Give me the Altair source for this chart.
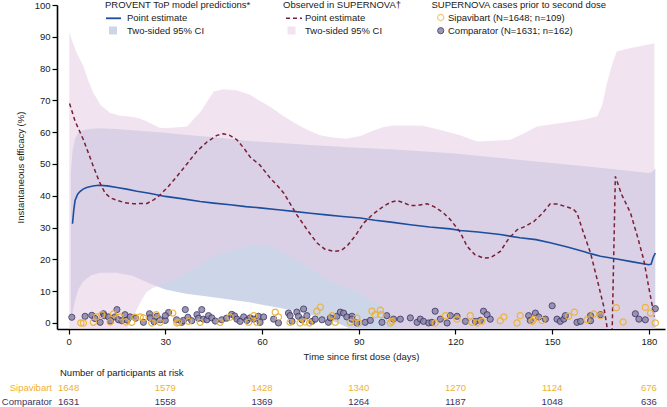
import altair as alt
import pandas as pd

FONT = "Liberation Sans"
FS = 9.5
TXT = "#1a1a1a"
BLUE = "#1d4e9e"
MAROON = "#7a1f35"
BLUE_CI = "#cdd6e8"
PINK_CI = "#e6cde3"
ORANGE = "#efb135"
PURPLE = "#3a3462"
PURPLE_FILL = "#8d86a8"

# PROVENT ToP model predictions: point estimate
model_day = [1.2, 1.6, 2, 2.8, 3.6, 4.5, 5.6, 7.5, 9.3, 12, 15, 18, 21.2, 25, 30, 35, 40.8, 45,
             50.1, 55, 59.4, 65, 69.8, 75, 80, 85, 90.5, 95, 100, 106, 112, 118.4, 121.5, 127,
             133.9, 140, 145, 149.4, 155, 160, 161.9, 165, 170.1, 175, 180, 180.7, 181.3, 182]
model_est = [31.2, 35.5, 38.5, 40.5, 41.4, 42.1, 42.6, 43.1, 43.3, 43.1, 42.6, 42.1, 41.4, 40.8,
             39.8, 39.1, 38.2, 37.7, 37.2, 36.6, 36.2, 35.6, 35.1, 34.5, 34.0, 33.5, 33.0, 32.3,
             31.7, 30.9, 30.2, 29.6, 29.1, 28.6, 27.8, 26.8, 26.2, 25.2, 23.8, 22.4, 21.8, 21.0,
             20.1, 19.2, 18.3, 18.5, 20.5, 22.0]

# PROVENT ToP model predictions: two-sided 95% CI
model_ci_day = [0.7, 1.2, 2, 3, 4.5, 7, 10, 15, 20, 25, 30, 36, 46, 56, 66, 75, 82, 88, 100,
                120, 135, 150, 165, 180, 181, 182]
model_ci_lo = [0, 3, 7, 10.5, 13, 15, 15.8, 15.8, 14.8, 12.5, 10.5, 9.3, 7.9, 6.5, 4.6, 2.6,
               0.5, -2, -2, -2, -2, -2, -2, -2, -2, -2]
model_ci_hi = [47, 54, 58, 59.8, 60.6, 61.1, 61.2, 61.0, 60.6, 60.2, 59.8, 59.2, 58.3, 57.2,
               56.6, 56.0, 55.6, 55.2, 54.6, 53.3, 51.8, 50.3, 48.8, 47.2, 47.5, 48.6]

# Observed in SUPERNOVA: point estimate
obs_day = [0.3, 2, 4.6, 7.7, 9.5, 11.3, 13, 15, 17.5, 20.1, 24.3, 26.5, 28.4, 31, 33.6, 36.7,
           39.8, 43, 46, 48, 50, 52.2, 54.5, 56.3, 59.4, 62.5, 64.5, 66.7, 70.8, 74, 77, 79.5,
           82.2, 84.5, 86.3, 89, 91.5, 94.5, 97.7, 100, 101.9, 104, 106, 108.5, 111.2, 113.5,
           116.3, 118.4, 121.5, 123.6, 126, 128.7, 131, 133.9, 136.5, 139.1, 141.5, 144.3,
           147, 149.4, 151.5, 154.6, 156.5, 157.7, 159.5, 161.9, 164, 166, 167.3, 168.6,
           169.6, 171.5, 174.3, 176.5, 178.4, 180, 181.7]
obs_est = [69, 63.5, 57.6, 49.2, 44.5, 40.9, 39.3, 38.6, 37.8, 37.5, 37.6, 38.8, 40.3, 43,
           46.1, 50, 54, 57, 59, 59.5, 59, 57.6, 54.8, 52.2, 49.6, 45.6, 43.5, 40.9, 34, 29.3,
           25.2, 23.2, 22.5, 22.8, 24.1, 27.5, 31.4, 34.3, 36.7, 38, 38.5, 37.8, 36.9, 37,
           37.5, 36.5, 34.6, 32.5, 28.5, 24.1, 21.5, 20.4, 20.6, 22.5, 26.5, 29.3, 30.3, 31.9,
           34.5, 37.5, 37.4, 36.5, 35.8, 34.6, 29, 22, 13.5, 5.2, -3, -3, 46.1, 40.5, 34.6,
           27, 19.9, 11, 2]

# Observed in SUPERNOVA: two-sided 95% CI
obs_ci_day = [0.2, 1, 2.5, 4.6, 6, 7.7, 10, 12.9, 16, 18, 20, 22, 24, 26, 28.4, 32, 36.7, 41,
              45, 48, 52, 56.3, 59.4, 62.5, 66.7, 70, 74, 78, 82, 86, 90.5, 94, 97.7, 100, 102,
              106, 110, 116, 121.5, 126.7, 132, 137, 141, 145.3, 149.4, 155, 160, 164, 165.5,
              167, 168.5, 170, 174.3, 178, 181.7]
obs_ci_lo = [-2, -2, -2, -2, -2, -2, -2, -2, -2, -2, 2, 6, 9.5, 11, 11.8, 13.3, 15.7, 18.5, 21,
             22, 23.2, 24.4, 24.6, 24, 22, 20, 17.8, 15.2, 12.6, 11, 9.4, 7, 4.2, 1.5, -2,
             -2, -2, -2, -2, -2, -2, -2, -2, -2, -2, -2, -2, -2, -2, -2, -2, -2, -2, -2, -2]
obs_ci_hi = [91.5, 89, 85, 80.7, 76.5, 72.3, 68.5, 66, 65.2, 65, 64.8, 64.3, 63.5, 62.5, 61.3,
             61.4, 61.8, 66.5, 72.8, 73.5, 73.2, 71.8, 69.8, 68, 65, 63, 60.8, 59, 58.3, 57.9,
             58.8, 60.3, 61.6, 62, 62.1, 62.1, 62, 60.5, 59, 57.1, 57.3, 57.6, 59.5, 61.8,
             62.4, 63.2, 64, 65, 68.5, 75.5, 81, 85.4, 86.5, 87.2, 88]

# SUPERNOVA cases prior to second dose (day of case, plotted height)
comp_day = [1.0, 5.1, 7.2, 8.2, 9.8, 10.8, 11.1, 12.4, 13.0, 15.0, 14.4, 15.5, 16.5, 17.5, 18.2,
            19.1, 20.8, 23.2, 25.1, 25.3, 26.5, 27.4, 28.4, 30.0, 31.0, 30.0, 33.5, 35.1, 35.6,
            36.2, 37.0, 38.2, 39.8, 40.3, 41.3, 41.8, 42.9, 43.4, 44.4, 45.5, 47.5, 49.0, 50.6,
            51.5, 52.2, 53.2, 54.3, 55.3, 56.3, 57.4, 58.9, 59.4, 60.5, 63.6, 65.1, 68.2, 68.7,
            69.3, 70.8, 71.3, 72.4, 72.9, 73.9, 75.5, 76.5, 78.6, 80.6, 81.2, 83.2, 84.3, 85.3,
            86.3, 87.9, 87.9, 89.4, 92.0, 93.6, 97.2, 98.7, 100.8, 102.9, 106.0, 108.1, 109.1,
            110.1, 111.7, 112.7, 113.7, 115.3, 117.4, 118.4, 120.5, 123.1, 126.2, 127.7, 128.7,
            129.8, 130.8, 142.7, 143.2, 144.8, 145.8, 147.9, 150.0, 151.5, 152.5, 153.6, 154.1,
            157.7, 158.8, 161.9, 161.9, 165.0, 175.8, 176.9, 178.9, 182.0]
comp_val = [1.8, 2.1, 2.4, 1.4, 0.2, 2.9, 2.3, 1.9, 0.6, 4.2, 1.9, 1.0, 0.7, 2.6, 0.9,
            1.9, 1.5, 0.2, 2.9, 1.6, 0.4, 2.1, 1.0, 0.8, 3.3, 2.3, 1.0, 0.2, 0.8,
            4.2, 1.8, 0.7, 2.6, 1.5, 4.2, 1.2, 1.0, 2.3, 1.6, 0.6, 1.0, 1.5, 2.7,
            2.2, 1.2, 0.5, 1.9, 0.8, 1.6, 1.2, 2.1, 0.2, 1.9, 1.2, 0.0, 3.1, 2.3,
            0.5, 3.4, 2.1, 1.0, 4.4, 2.3, 0.5, 1.2, 1.0, 0.2, 1.6, 2.1, 3.4, 3.1,
            1.9, 2.1, 1.2, 0.0, 0.2, 0.8, 0.2, 2.3, 1.2, 1.2, 1.6, 0.2, 1.2,
            0.5, 0.0, 0.2, 3.7, 1.2, 0.0, 2.3, 2.1, 0.5, 0.5, 0.8, 3.7,
            2.6, 1.2, 2.3, 0.8, 3.1, 1.9, 1.2, 5.4, 1.2, 0.5, 1.2, 2.3,
            0.2, 0.5, 2.3, 0.7, 2.6, 2.9, 1.2, 1.0, 4.5]
sipa_day = [3.8, 4.6, 7.7, 8.7, 10.3, 12.9, 13.9, 16.0, 17.8, 19.6, 20.6, 22.2, 23.2, 25.8, 27.2,
            28.4, 32.3, 33.6, 34.1, 37.2, 40.8, 47.0, 50.1, 55.8, 57.4, 58.4, 64.1, 65.1, 68.7,
            71.8, 73.4, 74.7, 77.0, 78.1, 81.7, 82.7, 87.4, 89.4, 90.0, 94.1, 95.1, 96.7, 96.9,
            99.8, 100.3, 113.7, 116.9, 120.5, 124.6, 125.1, 126.7, 128.2, 133.9, 135.0, 139.1,
            140.1, 143.8, 144.3, 146.9, 155.1, 156.9, 160.8, 162.9, 165.0, 169.9, 172.0, 178.9,
            180.5, 182.0]
sipa_val = [0.0, 0.0, 0.2, 1.9, 2.6, 0.3, 2.8, 1.9, 0.3, 0.2, 1.8, 1.9, 1.6, 0.0, 2.6,
            0.2, 3.1, 0.0, 0.2, 0.5, 0.2, 0.2, 1.8, 0.2, 2.3, 0.2, 3.4, 1.9, 0.2,
            0.0, 0.3, 0.0, 3.7, 5.0, 2.3, 0.2, 0.2, 1.6, 0.0, 3.7, 2.6, 4.0, 2.6,
            0.0, 0.5, 0.0, 2.3, 1.2, 2.3, 0.2, 0.0, 0.5, 0.7, 1.9, 0.0,
            2.3, 0.5, 1.2, 0.8, 2.1, 3.4, 1.0, 2.8, 2.3, 4.8, 0.3, 4.9,
            3.1, 0.0]

# Number of participants at risk
risk_day = [0, 30, 60, 90, 120, 150, 180]
risk_sipavibart = [1648, 1579, 1428, 1340, 1270, 1124, 676]
risk_comparator = [1631, 1558, 1369, 1264, 1187, 1048, 636]

model_df = pd.DataFrame({"day": model_day, "val": model_est})
model_ci_df = pd.DataFrame({"day": model_ci_day, "lo": model_ci_lo, "hi": model_ci_hi})
obs_df = pd.DataFrame({"day": obs_day, "val": obs_est})
obs_ci_df = pd.DataFrame({"day": obs_ci_day, "lo": obs_ci_lo, "hi": obs_ci_hi})
comp_df = pd.DataFrame({"day": comp_day, "val": comp_val})
sipa_df = pd.DataFrame({"day": sipa_day, "val": sipa_val})
risk_df = pd.DataFrame({"day": risk_day, "sipa": risk_sipavibart, "comp": risk_comparator})

x_scale = alt.Scale(domain=[-3.6, 185], nice=False, zero=False)
y_scale = alt.Scale(domain=[-1.9, 100], nice=False, zero=False)
x_axis = alt.Axis(values=risk_day, title="Time since first dose (days)", grid=False)
y_axis = alt.Axis(values=list(range(0, 101, 10)), title="Instantaneous efficacy (%)", grid=False)
X_TITLE = "Time since first dose (days)"
Y_TITLE = "Instantaneous efficacy (%)"


def xq(field="day"):
    return alt.X(f"{field}:Q", scale=x_scale, axis=x_axis, title=X_TITLE)


def yq(field):
    return alt.Y(f"{field}:Q", scale=y_scale, axis=y_axis, title=Y_TITLE)


model_band = alt.Chart(model_ci_df).mark_area(color=BLUE_CI, opacity=1, clip=True).encode(
    x=xq(), y=yq("lo"), y2="hi")
obs_band = alt.Chart(obs_ci_df).mark_area(color=PINK_CI, opacity=0.55, clip=True).encode(
    x=xq(), y=yq("lo"), y2="hi")
model_line = alt.Chart(model_df).mark_line(color=BLUE, strokeWidth=1.6, clip=True).encode(
    x=xq(), y=yq("val"))
obs_line = alt.Chart(obs_df).mark_line(color=MAROON, strokeWidth=1.5, strokeDash=[4, 3],
                                       clip=True).encode(x=xq(), y=yq("val"))
comp_pts = alt.Chart(comp_df).mark_circle(size=38, color=PURPLE_FILL, opacity=0.85,
                                          stroke=PURPLE, strokeWidth=1).encode(
    x=xq(), y=yq("val"))
sipa_pts = alt.Chart(sipa_df).mark_point(size=38, filled=False, color=ORANGE, strokeWidth=1.2,
                                         opacity=0.95).encode(x=xq(), y=yq("val"))

# at-risk table under the axis
risk_title = alt.Chart(pd.DataFrame({"t": ["Number of participants at risk"]})).mark_text(
    align="left", baseline="middle", font=FONT, fontSize=FS, color=TXT).encode(
    x=alt.value(3), y=alt.value(368), text="t:N")
risk_sipa = alt.Chart(risk_df).mark_text(baseline="middle", font=FONT, fontSize=FS,
                                         color=ORANGE).encode(
    x=xq(), y=alt.value(382.5), text="sipa:Q")
risk_comp = alt.Chart(risk_df).mark_text(baseline="middle", font=FONT, fontSize=FS,
                                         color=PURPLE).encode(
    x=xq(), y=alt.value(396.5), text="comp:Q")
row_labels = alt.Chart(pd.DataFrame({"t": ["Sipavibart", "Comparator"],
                                     "c": [ORANGE, PURPLE],
                                     "yy": [382.5, 396.5]})).mark_text(
    align="right", baseline="middle", font=FONT, fontSize=FS).encode(
    x=alt.value(-5), y=alt.Y("yy:Q", scale=None), text="t:N",
    color=alt.Color("c:N", scale=None))

one = pd.DataFrame({"k": [0]})


def label(text, x, y):
    return alt.Chart(one).mark_text(text=text, align="left", baseline="middle", font=FONT,
                                    fontSize=FS, color=TXT).encode(
        x=alt.value(x), y=alt.value(y))


legend = [
    label("PROVENT ToP model predictions*", 48, 0),
    alt.Chart(one).mark_rule(color=BLUE, strokeWidth=1.8).encode(
        x=alt.value(49), x2=alt.value(64), y=alt.value(13.3)),
    label("Point estimate", 70, 13.3),
    alt.Chart(one).mark_rect(color=BLUE_CI).encode(
        x=alt.value(52), x2=alt.value(60), y=alt.value(21.5), y2=alt.value(29.5)),
    label("Two-sided 95% CI", 70, 25.7),

    label("Observed in SUPERNOVA\u2020", 226, 0),
    alt.Chart(one).mark_rule(color=MAROON, strokeWidth=1.5, strokeDash=[4, 3]).encode(
        x=alt.value(229), x2=alt.value(245), y=alt.value(13.3)),
    label("Point estimate", 248, 13.3),
    alt.Chart(one).mark_rect(color="#f1e4f0").encode(
        x=alt.value(230.5), x2=alt.value(238.5), y=alt.value(21.5), y2=alt.value(29.5)),
    label("Two-sided 95% CI", 248, 25.7),

    label("SUPERNOVA cases prior to second dose", 374.5, 0),
    alt.Chart(one).mark_point(size=38, filled=False, color=ORANGE, strokeWidth=1.2).encode(
        x=alt.value(383.7), y=alt.value(12.5)),
    label("Sipavibart (N=1648; n=109)", 391, 12.5),
    alt.Chart(one).mark_circle(size=38, color=PURPLE_FILL, opacity=0.85, stroke=PURPLE,
                               strokeWidth=1).encode(x=alt.value(383.7), y=alt.value(25.7)),
    label("Comparator (N=1631; n=162)", 391, 25.7),
]

chart = alt.layer(
    model_band, obs_band, model_line, obs_line, comp_pts, sipa_pts,
    risk_title, risk_sipa, risk_comp, row_labels, *legend
).properties(
    width=608, height=324,
    autosize=alt.AutoSizeParams(type="none"),
    padding={"left": 57, "top": 5, "right": 2, "bottom": 78},
    background="white",
).configure_view(stroke=None).configure_axis(
    labelFont=FONT, titleFont=FONT, labelFontSize=FS, titleFontSize=FS,
    labelColor=TXT, titleColor=TXT, titleFontWeight="normal",
    domainColor="#000000", domainWidth=1.6, tickColor="#000000", tickWidth=1.2, tickSize=5,
).configure_axisX(labelPadding=2, titlePadding=6).configure_axisY(labelPadding=2, titlePadding=9)

chart.save("out.html", embed_options={"renderer": "svg", "actions": False})
